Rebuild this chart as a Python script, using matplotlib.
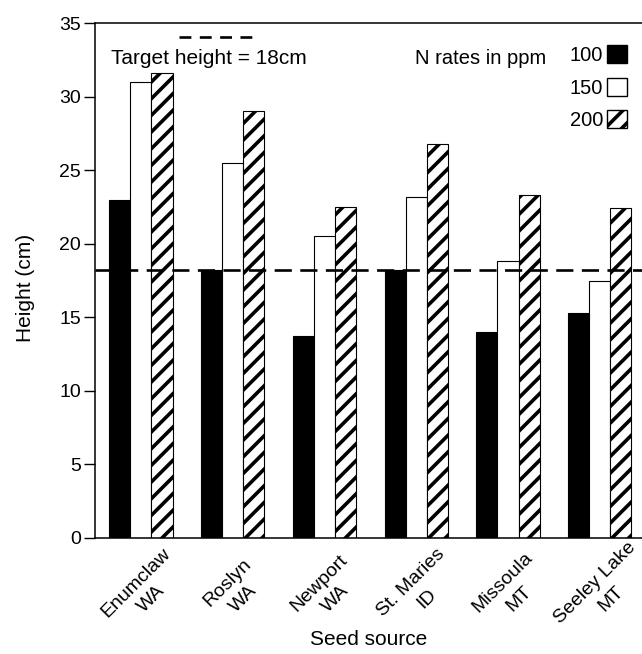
import numpy as np
import matplotlib.pyplot as plt
import matplotlib.transforms as mtransforms
from matplotlib.patches import Patch

plt.rcParams['font.family'] = ['Liberation Sans', 'DejaVu Sans']
plt.rcParams['hatch.linewidth'] = 2.6

# data
sources = ['Enumclaw\nWA', 'Roslyn\nWA', 'Newport\nWA', 'St. Maries\nID', 'Missoula\nMT', 'Seeley Lake\nMT']
n100 = [23.0, 18.2, 13.7, 18.2, 14.0, 15.3]
n150 = [31.0, 25.5, 20.5, 23.2, 18.8, 17.5]
n200 = [31.6, 29.0, 22.5, 26.8, 23.3, 22.4]
rate_labels = ['100', '150', '200']
target_height = 18.2

fig = plt.figure(figsize=(6.42, 6.54), dpi=100)
ax = fig.add_axes([95/642, 1 - 538/654, 1 - 95/642, (538 - 23)/654])

x = np.arange(len(sources))
w = 0.23
ax.bar(x - w, n100, w, color='black', edgecolor='black', linewidth=0.8)
ax.bar(x, n150, w, color='white', edgecolor='black', linewidth=0.8)
ax.bar(x + w, n200, w, color='white', edgecolor='black', linewidth=0.8, hatch='//')

ax.axhline(target_height, color='black', lw=1.9, linestyle=(0, (6.5, 3.2)))

# legend-ish annotations
ax.plot([0.153, 0.289], [0.972, 0.972], transform=ax.transAxes, color='black',
        lw=1.9, linestyle=(0, (4.5, 3.2)), clip_on=False)
ax.text(0.03, 0.932, 'Target height = 18cm', transform=ax.transAxes,
        fontsize=15, va='center', ha='left')
ax.text(0.825, 0.932, 'N rates in ppm', transform=ax.transAxes,
        fontsize=14.5, va='center', ha='right')

handles = [Patch(facecolor='black', edgecolor='black'),
           Patch(facecolor='white', edgecolor='black'),
           Patch(facecolor='white', edgecolor='black', hatch='//')]
ax.legend(handles, rate_labels, loc='upper right', bbox_to_anchor=(0.995, 0.98),
          frameon=False, markerfirst=False, fontsize=14.5, handlelength=1.0,
          handleheight=1.0, handletextpad=0.2, labelspacing=0.62, borderpad=0.1)

ax.set_xlim(-0.5, 5.46)
ax.set_ylim(0, 35)
ax.set_yticks(range(0, 36, 5))
ax.set_xticks(x, labels=[])

# rotated seed-source labels: each line as its own text, stepped down-right
step = 23 * 0.707  # line spacing along the 45 deg direction, px
for xi, name in zip(x, sources):
    lines = name.split('\n')
    for k, line in enumerate(lines):
        off = k - (len(lines) - 1) / 2
        tr = ax.get_xaxis_transform() + mtransforms.ScaledTranslation(
            (3 + off * step) / 100, (-off * step) / 100, fig.dpi_scale_trans)
        ax.text(xi, -0.103, line, transform=tr, rotation=45, rotation_mode='anchor',
                ha='center', va='center', fontsize=14, clip_on=False)

ax.tick_params(axis='x', length=0)
ax.tick_params(axis='y', direction='out', length=8, width=1, pad=2, labelsize=14)
ax.spines['right'].set_visible(False)
for s in ['left', 'bottom', 'top']:
    ax.spines[s].set_linewidth(1.1)

ax.set_ylabel('Height (cm)', fontsize=15)
ax.yaxis.set_label_coords(-0.11, 0.485)
ax.set_xlabel('Seed source', fontsize=15)
ax.xaxis.set_label_coords(0.5, -0.178)

fig.savefig('out.png', dpi=100)
